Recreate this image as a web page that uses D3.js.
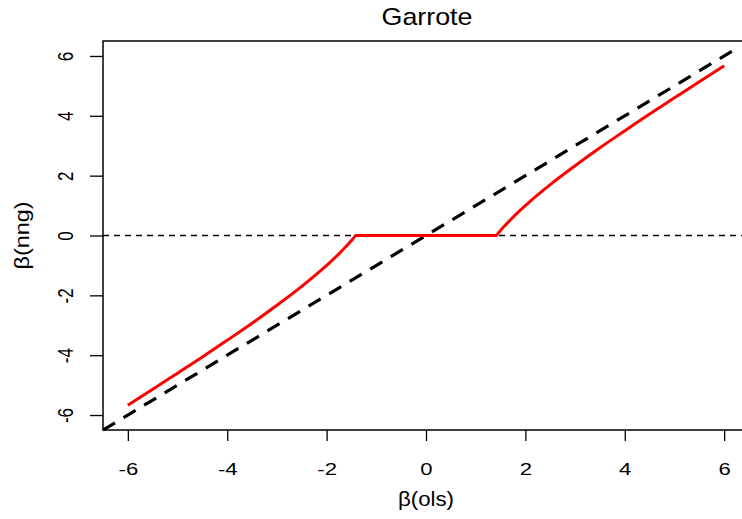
<!DOCTYPE html>
<html>
<head>
<meta charset="utf-8">
<script src="https://cdn.jsdelivr.net/npm/d3@7"></script>
<style>
  body { margin: 0; background: #fff; }
  text { font-family: "Liberation Sans", Arial, sans-serif; }
</style>
</head>
<body>
<svg width="742" height="519"></svg>
<script>
// Data
const olsValues = [-6, -5.5, -5, -4.5, -4, -3.5, -3, -2.5, -2, -1.75, -1.6, -1.5, -1.45, -1.414,
                   1.414, 1.45, 1.5, 1.6, 1.75, 2, 2.5, 3, 3.5, 4, 4.5, 5, 5.5, 6]
const nngValues = [-5.67, -5.14, -4.6, -4.06, -3.5, -2.93, -2.33, -1.7, -1.0, -0.61, -0.35, -0.17, -0.07, 0,
                   0, 0.07, 0.17, 0.35, 0.61, 1.0, 1.7, 2.33, 2.93, 3.5, 4.06, 4.6, 5.14, 5.67]
const diagonal = [-6.5, 6.25]
const xTicks = [-6, -4, -2, 0, 2, 4, 6]
const yTicks = [-6, -4, -2, 0, 2, 4, 6]

// Set up
const svg = d3.select('svg')
const m = { left: 103, right: 749, top: 41, bottom: 430 }
const stretch = 1.3 // the original image is a bit wider than tall

const x = d3.scaleLinear().domain([-6.5, 6.5]).range([m.left, m.right])
const y = d3.scaleLinear().domain([-6.5, 6.5]).range([m.bottom, m.top])

// Axes (plain hyphen minus like the original)
svg.append('g')
    .attr('transform', `translate(0,${m.bottom})`)
    .call(d3.axisBottom(x).tickValues(xTicks).tickSize(11).tickPadding(22).tickFormat(d => String(d)))
    .call(g => g.select('.domain').remove())
    .call(g => g.selectAll('line').attr('stroke', '#000').attr('stroke-width', 1.3))
    .call(g => g.selectAll('text')
        .style('font-size', '17px')
        .style('font-family', '"Liberation Sans", Arial, sans-serif')
        .attr('fill', '#000')
        .attr('transform', `scale(${stretch},1)`))

svg.append('g')
    .attr('transform', `translate(${m.left},0)`)
    .call(d3.axisLeft(y).tickValues(yTicks).tickSize(13).tickFormat(d => String(d)))
    .call(g => g.select('.domain').remove())
    .call(g => g.selectAll('line').attr('stroke', '#000').attr('stroke-width', 1.3))
    .call(g => g.selectAll('text')
        .style('font-size', '17px')
        .style('font-family', '"Liberation Sans", Arial, sans-serif')
        .attr('fill', '#000')
        .attr('text-anchor', 'middle')
        .attr('transform', `rotate(-90) scale(1,${stretch})`)
        .attr('x', 0)
        .attr('y', -38 / stretch)
        .attr('dy', '0.35em'))

// horizontal reference line
svg.append('line')
    .attr('x1', m.left).attr('x2', m.right)
    .attr('y1', y(0)).attr('y2', y(0))
    .attr('stroke', '#000')
    .attr('stroke-width', 1.3)
    .attr('stroke-dasharray', '6 5')

// diagonal y = x
svg.append('line')
    .attr('x1', x(diagonal[0])).attr('y1', y(diagonal[0]))
    .attr('x2', x(diagonal[1])).attr('y2', y(diagonal[1]))
    .attr('stroke', '#000')
    .attr('stroke-width', 3.2)
    .attr('stroke-dasharray', '14 10')

// garrote curve
const pts = olsValues.map((d, i) => [d, nngValues[i]])
svg.append('path')
    .datum(pts)
    .attr('fill', 'none')
    .attr('stroke', '#ff0000')
    .attr('stroke-width', 3)
    .attr('d', d3.line().x(d => x(d[0])).y(d => y(d[1])).curve(d3.curveMonotoneX))

// frame
svg.append('rect')
    .attr('x', m.left).attr('y', m.top)
    .attr('width', m.right - m.left).attr('height', m.bottom - m.top)
    .attr('fill', 'none')
    .attr('stroke', '#000')
    .attr('stroke-width', 1.5)

// titles
svg.append('text')
    .attr('x', 427).attr('y', 25)
    .attr('text-anchor', 'middle')
    .attr('font-size', 24)
    .attr('textLength', 91)
    .attr('lengthAdjust', 'spacingAndGlyphs')
    .text('Garrote')

svg.append('text')
    .attr('x', 426).attr('y', 506)
    .attr('text-anchor', 'middle')
    .attr('font-size', 21)
    .attr('textLength', 56)
    .attr('lengthAdjust', 'spacingAndGlyphs')
    .text('β(ols)')

svg.append('text')
    .attr('transform', `translate(29,${y(0)}) rotate(-90)`)
    .attr('text-anchor', 'middle')
    .attr('font-size', 21)
    .attr('textLength', 68)
    .attr('lengthAdjust', 'spacingAndGlyphs')
    .text('β(nng)')
</script>
</body>
</html>
